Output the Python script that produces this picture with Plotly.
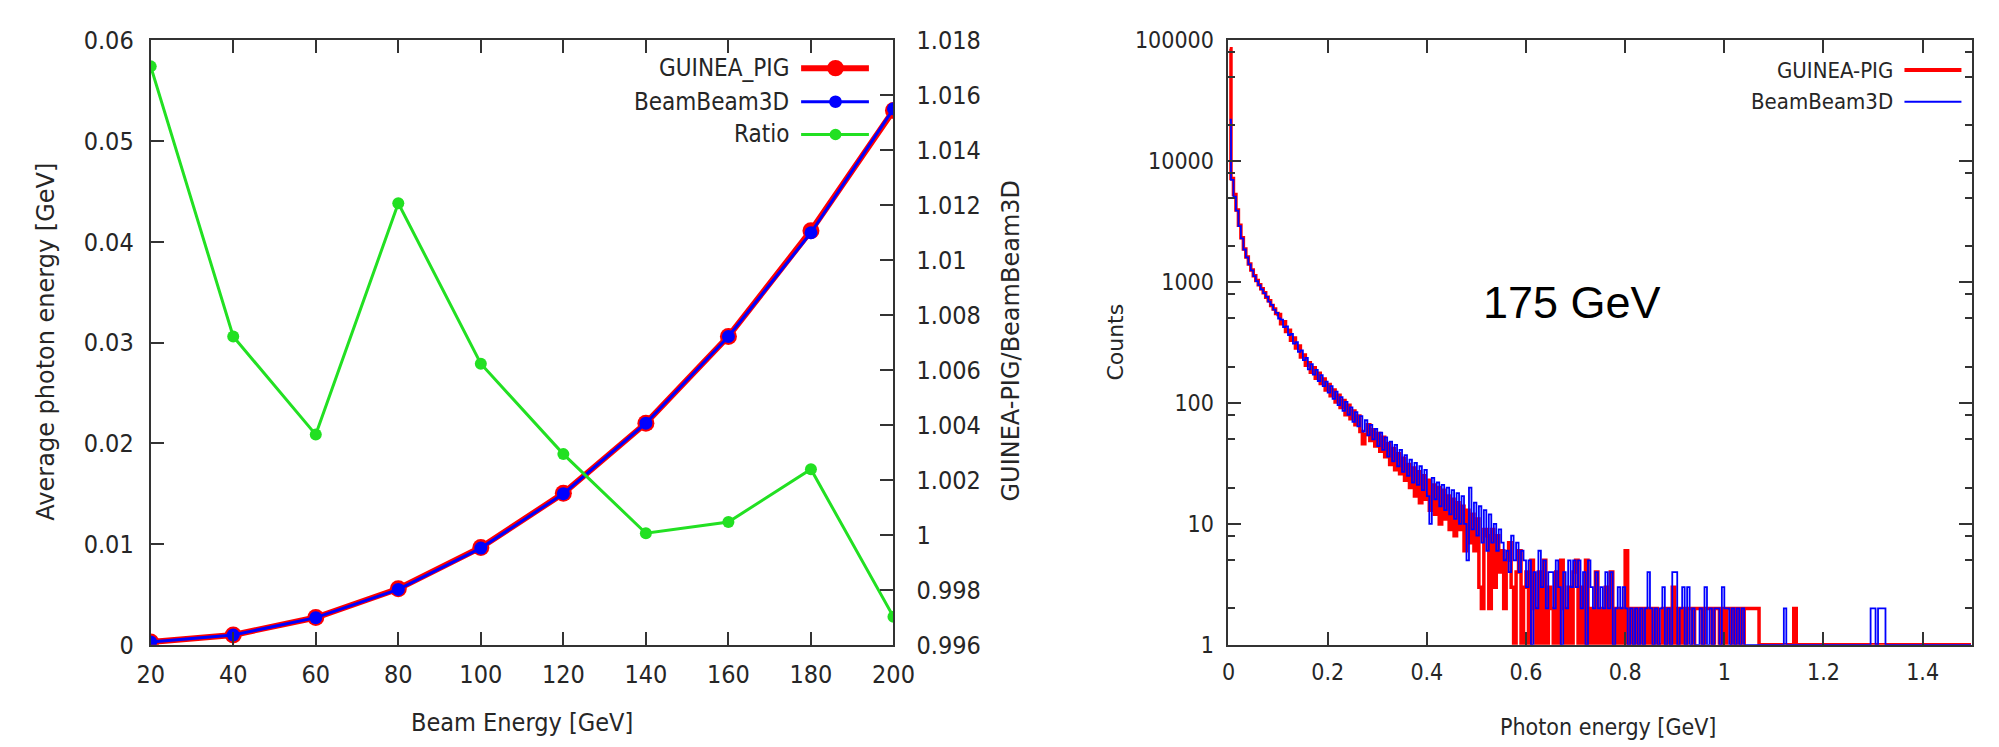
import plotly.graph_objects as go

# ---------------- Left panel data ----------------
beam_energy = [20, 40, 60, 80, 100, 120, 140, 160, 180, 200]
guinea_pig_avg = [0.000285, 0.000987, 0.00271, 0.00557, 0.00966, 0.01504, 0.02200, 0.03061, 0.04110, 0.05304]
beambeam3d_avg = [0.00028, 0.00098, 0.00270, 0.00550, 0.00960, 0.01500, 0.02200, 0.03060, 0.04090, 0.05320]
ratio = [1.01705, 1.00722, 1.00365, 1.01207, 1.00623, 1.00294, 1.00006, 1.00047, 1.00239, 0.99702]

left_y_ticks = [0, 0.01, 0.02, 0.03, 0.04, 0.05, 0.06]
left_y_text = ["0", "0.01", "0.02", "0.03", "0.04", "0.05", "0.06"]
ratio_ticks = [0.996, 0.998, 1.0, 1.002, 1.004, 1.006, 1.008, 1.01, 1.012, 1.014, 1.016, 1.018]
ratio_text = ["0.996", "0.998", "1", "1.002", "1.004", "1.006", "1.008", "1.01", "1.012", "1.014", "1.016", "1.018"]

# ---------------- Right panel data (175 GeV photon spectrum) ----------------
bin_width = 0.005
n_bins = 300
photon_energy = [round(0.0025 + bin_width * i, 4) for i in range(n_bins)]

gp_counts_head = [
    85000, 7200, 5300, 3950, 2950, 2330, 1880, 1610, 1410, 1260,
    1130, 1030, 950, 880, 815, 750, 700, 640, 600, 550,
    540, 452, 470, 390, 400, 330, 345, 285, 296, 240,
    250, 205, 215, 180, 196, 160, 176, 145, 158, 128,
    142, 115, 128, 102, 116, 92, 105, 80, 96, 74,
    86, 66, 78, 58, 46, 55, 66, 49, 60, 44,
    56, 40, 52, 36, 46, 31, 42, 28, 38, 26,
    35, 23, 31, 20, 29, 17, 27, 15, 25, 16,
    23, 13, 21, 12, 20, 10, 19, 11, 17, 9,
    16, 8, 15, 9, 14, 6, 13, 7, 12, 6,
    11, 3, 2, 9, 8, 2, 9, 3, 8, 4,
]
gp_counts_tail = (
    "6257314613" "4152141513" "2141521314" "5131512141" "2131412121"
    "6121212121" "2121121213" "1212122122" "2122212212" "1221212122"
    "2222111111" "1111111121" + "1" * 70
)

bb_counts_head = [
    22000, 7000, 5100, 3900, 2900, 2300, 1860, 1600, 1400, 1250,
    1120, 1020, 945, 872, 810, 755, 690, 648, 592, 556,
    500, 490, 425, 430, 365, 372, 310, 318, 265, 272,
    226, 236, 190, 210, 172, 188, 152, 170, 138, 150,
    122, 138, 108, 124, 96, 112, 86, 102, 80, 92,
    70, 84, 64, 78, 58, 72, 54, 66, 50, 61,
    44, 57, 41, 52, 36, 48, 33, 45, 30, 41,
    27, 37, 25, 34, 22, 32, 21, 30, 19, 28,
    17, 10, 24, 16, 22, 14, 21, 13, 20, 12,
    19, 11, 18, 10, 17, 10, 5, 20, 9, 15,
    8, 14, 7, 13, 6, 12, 7, 10, 6, 9,
]
bb_counts_tail = (
    "7564857465" "3514263524" "4253142535" "3524153242" "3242412323"
    "2121212124" "2121231214" "4123131211" "2131212213" "2212121211"
    "1111111111" "1111211111" "1111111111" "1111111111" "1111111112"
    "2122211111" + "1" * 30
)

gp_counts = gp_counts_head + [int(c) for c in gp_counts_tail]
bb_counts = bb_counts_head + [int(c) for c in bb_counts_tail]

photon_ticks = [0, 0.2, 0.4, 0.6, 0.8, 1.0, 1.2, 1.4]
photon_text = ["0", "0.2", "0.4", "0.6", "0.8", "1", "1.2", "1.4"]
count_ticks = [1, 10, 100, 1000, 10000, 100000]
count_text = ["1", "10", "100", "1000", "10000", "100000"]
count_minor = [m * d for d in [1, 10, 100, 1000, 10000] for m in (2, 5, 8)]

# ---------------- Styling ----------------
RED = "#ff0000"
BLUE = "#0000ff"
GREEN = "#22e022"
AX = "#333333"
TXT = "#262626"
COND = "DejaVu Sans Condensed, DejaVu Sans, sans-serif"
WIDE = "DejaVu Sans, Verdana, sans-serif"

W, H = 1999, 747
def px(x):
    return x / W
def py(y):
    return 1 - y / H

L0, L1 = 131, 887
R0, R1 = 1228, 1985
T0, B0 = 19, 648

fig = go.Figure()

fig.add_trace(go.Scatter(
    x=beam_energy, y=guinea_pig_avg, name="GUINEA_PIG", mode="lines+markers",
    line=dict(color=RED, width=6), marker=dict(color=RED, size=17),
    xaxis="x", yaxis="y"))
fig.add_trace(go.Scatter(
    x=beam_energy, y=beambeam3d_avg, name="BeamBeam3D", mode="lines+markers",
    line=dict(color=BLUE, width=3), marker=dict(color=BLUE, size=13),
    xaxis="x", yaxis="y"))
fig.add_trace(go.Scatter(
    x=beam_energy, y=ratio, name="Ratio", mode="lines+markers",
    line=dict(color=GREEN, width=3), marker=dict(color=GREEN, size=12),
    xaxis="x", yaxis="y2"))

fig.add_trace(go.Scatter(
    x=photon_energy, y=gp_counts, name="GUINEA-PIG", mode="lines",
    line=dict(color=RED, width=3.5, shape="hvh"), xaxis="x2", yaxis="y3"))
fig.add_trace(go.Scatter(
    x=photon_energy, y=bb_counts, name="BeamBeam3D", mode="lines",
    line=dict(color=BLUE, width=1.8, shape="hvh"), xaxis="x2", yaxis="y3"))

common = dict(showgrid=False, zeroline=False, showline=True, linecolor=AX, linewidth=2,
              ticks="inside", tickcolor=AX, tickwidth=2, ticklen=13)

fig.update_layout(
    width=W, height=H, margin=dict(l=0, r=0, t=0, b=0),
    paper_bgcolor="white", plot_bgcolor="white", showlegend=False,
    xaxis=dict(domain=[px(L0), px(L1)], range=[20, 200], tickmode="array",
               tickvals=beam_energy, ticktext=[str(v) for v in beam_energy],
               mirror="ticks", anchor="y", ticklabelstandoff=6,
               tickfont=dict(family=COND, size=25, color=TXT), **common),
    yaxis=dict(domain=[py(B0), py(T0)], range=[0, 0.06], tickmode="array",
               tickvals=left_y_ticks, ticktext=left_y_text, anchor="x",
               ticklabelstandoff=10,
               tickfont=dict(family=COND, size=25, color=TXT), **common),
    yaxis2=dict(overlaying="y", side="right", range=[0.996, 1.018], tickmode="array",
                tickvals=ratio_ticks, ticktext=ratio_text, anchor="x",
                ticklabelstandoff=16,
                tickfont=dict(family=COND, size=25, color=TXT), **common),
    xaxis2=dict(domain=[px(R0), px(R1)], range=[0, 1.5], tickmode="array",
                tickvals=photon_ticks, ticktext=photon_text, mirror="ticks", anchor="y3",
                ticklabelstandoff=6,
                tickfont=dict(family=COND, size=23, color=TXT), **common),
    yaxis3=dict(domain=[py(B0), py(T0)], type="log", range=[0, 5], tickmode="array",
                tickvals=count_ticks, ticktext=count_text, mirror="ticks", anchor="x2",
                ticklabelstandoff=8,
                minor=dict(tickmode="array", tickvals=count_minor, ticks="inside",
                           ticklen=7, tickwidth=2, tickcolor=AX),
                tickfont=dict(family=COND, size=23, color=TXT), **common),
)

ann = []
# axis titles
ann.append(dict(text="Beam Energy [GeV]", x=px((L0 + L1) / 2), y=py(729), xref="paper", yref="paper",
                showarrow=False, font=dict(family=COND, size=25, color=TXT), xanchor="center", yanchor="middle"))
ann.append(dict(text="Average photon energy [GeV]", x=px(24), y=py(333), xref="paper", yref="paper",
                textangle=-90, showarrow=False, font=dict(family=WIDE, size=24, color=TXT),
                xanchor="center", yanchor="middle"))
ann.append(dict(text="GUINEA-PIG/BeamBeam3D", x=px(1007), y=py(331), xref="paper", yref="paper",
                textangle=-90, showarrow=False, font=dict(family=WIDE, size=24, color=TXT),
                xanchor="center", yanchor="middle"))
ann.append(dict(text="Photon energy [GeV]", x=px(1614), y=py(733), xref="paper", yref="paper",
                showarrow=False, font=dict(family=COND, size=23, color=TXT), xanchor="center", yanchor="middle"))
ann.append(dict(text="Counts", x=px(1113), y=py(333), xref="paper", yref="paper",
                textangle=-90, showarrow=False, font=dict(family=WIDE, size=22, color=TXT),
                xanchor="center", yanchor="middle"))
ann.append(dict(text="175 GeV", x=px(1578), y=py(292), xref="paper", yref="paper",
                showarrow=False, font=dict(family="Liberation Sans, Arial, sans-serif", size=45, color="black"),
                xanchor="center", yanchor="middle"))

# left legend
left_leg = [("GUINEA_PIG", RED, 6, 8.5, 48), ("BeamBeam3D", BLUE, 3, 6.5, 83), ("Ratio", GREEN, 3, 6, 117)]
shapes = []
for label, col, lw, r, yy in left_leg:
    ann.append(dict(text=label, x=px(783), y=py(yy), xref="paper", yref="paper", showarrow=False,
                    font=dict(family=COND, size=24, color=TXT), xanchor="right", yanchor="middle"))
    shapes.append(dict(type="line", xref="paper", yref="paper", x0=px(793), x1=px(862), y0=py(yy), y1=py(yy),
                       line=dict(color=col, width=lw)))
    shapes.append(dict(type="circle", xref="paper", yref="paper", x0=px(828 - r), x1=px(828 + r),
                       y0=py(yy + r), y1=py(yy - r), fillcolor=col, line=dict(color=col, width=0)))

# right legend
right_leg = [("GUINEA-PIG", RED, 4, 50), ("BeamBeam3D", BLUE, 2, 83)]
for label, col, lw, yy in right_leg:
    ann.append(dict(text=label, x=px(1906), y=py(yy), xref="paper", yref="paper", showarrow=False,
                    font=dict(family=COND, size=22, color=TXT), xanchor="right", yanchor="middle"))
    shapes.append(dict(type="line", xref="paper", yref="paper", x0=px(1916), x1=px(1974), y0=py(yy), y1=py(yy),
                       line=dict(color=col, width=lw)))

fig.update_layout(annotations=ann, shapes=shapes)

fig.write_html("out.html")
